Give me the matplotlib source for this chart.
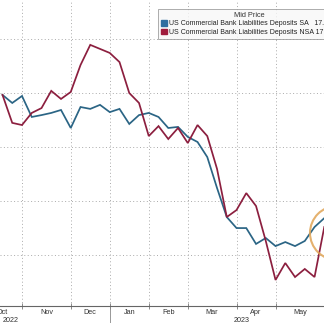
import matplotlib
matplotlib.use("Agg")
import matplotlib.pyplot as plt
from matplotlib.patches import Patch, Circle
import matplotlib.transforms as mtrans

plt.rcParams['font.family'] = ['Liberation Sans', 'DejaVu Sans']

# Weekly observations, Oct 19 2022 .. Jun 7 2023 (index 0 = Oct 19 2022)
weeks = list(range(34))
sa_values = [17.794, 17.764, 17.790, 17.712, 17.719, 17.727, 17.738, 17.671, 17.749, 17.742,
             17.757, 17.730, 17.742, 17.686, 17.719, 17.727, 17.712, 17.671, 17.675, 17.638,
             17.619, 17.563, 17.448, 17.340, 17.299, 17.299, 17.240, 17.262, 17.232, 17.247,
             17.232, 17.251, 17.303, 17.336]
nsa_values = [17.794, 17.690, 17.682, 17.727, 17.745, 17.809, 17.779, 17.805, 17.905, 17.980,
              17.965, 17.950, 17.916, 17.801, 17.764, 17.641, 17.678, 17.630, 17.671, 17.615,
              17.682, 17.641, 17.519, 17.340, 17.366, 17.429, 17.381, 17.251, 17.106, 17.169,
              17.117, 17.147, 17.117, 17.303]
# first weekly observation of each month (gridlines) and month label positions
month_starts = [2, 7, 11, 15, 19, 24, 28]
month_centers = [0, 4.5, 9, 13, 17, 21.5, 26, 30.5]
month_labels = ['Oct', 'Nov', 'Dec', 'Jan', 'Feb', 'Mar', 'Apr', 'May']
year_positions = [0.87, 24.5]
year_labels = ['2022', '2023']
year_break = 11
y_grid = [17.2, 17.4, 17.6, 17.8, 18.0]
legend_title = 'Mid Price'
sa_label = 'US Commercial Bank Liabilities Deposits SA   17.336'
nsa_label = 'US Commercial Bank Liabilities Deposits NSA 17.303'

blue = '#2b6585'
red = '#8c1f3f'

fig = plt.figure(figsize=(3.24, 3.23), dpi=100)
fig.patch.set_facecolor('white')
ax = fig.add_axes([0, 17/323, 1, 306/323])
ax.set_facecolor('white')

ax.plot(weeks, sa_values, color=blue, lw=1.25, zorder=3, solid_joinstyle='miter')
ax.plot(weeks, nsa_values, color=red, lw=1.25, zorder=3, solid_joinstyle='miter')

ax.set_xlim(-0.256, 32.97)
ax.set_ylim(17.0093, 18.1468)

ax.set_yticks(y_grid)
ax.tick_params(axis='y', left=False, labelleft=False)
ax.set_xticks(month_starts)
ax.set_xticklabels([])
ax.set_xticks(month_centers, minor=True)
ax.set_xticklabels(month_labels, minor=True, fontsize=5.2, color='#333333')
ax.tick_params(axis='x', which='major', direction='inout', length=4, width=0.6, color='#777777')
ax.tick_params(axis='x', which='minor', length=0, pad=1.8)

ax.grid(True, which='major', linestyle=(0, (1, 2.5)), color='#aaaaaa', lw=0.7)
for s in ['top', 'left', 'right']:
    ax.spines[s].set_visible(False)
ax.spines['bottom'].set_color('#666666')
ax.spines['bottom'].set_linewidth(0.8)

trans = mtrans.blended_transform_factory(ax.transData, ax.transAxes)
for xp, lab in zip(year_positions, year_labels):
    ax.text(xp, -0.047, lab, transform=trans, ha='center', va='center', fontsize=5.2, color='#333333')
ax.plot([year_break, year_break], [0, -0.06], transform=trans, color='#888888', lw=0.6, clip_on=False)

handles = [Patch(facecolor='#2f6ea0', edgecolor='#2f6ea0'),
           Patch(facecolor='#a01c3c', edgecolor='#a01c3c')]
leg = ax.legend(handles, [sa_label, nsa_label], title=legend_title, loc='upper left',
                bbox_to_anchor=(158/324, 1 - 8.5/306), borderaxespad=0, fontsize=5.0,
                title_fontsize=5.3, handlelength=0.85, handleheight=0.85, handletextpad=0.25,
                labelspacing=0.22, borderpad=0.45, frameon=True, fancybox=False)
leg.get_frame().set_edgecolor('#888888')
leg.get_frame().set_linewidth(0.6)
leg.get_frame().set_facecolor('#f8f8f8')
leg.set_zorder(5)
for t in leg.get_texts():
    t.set_color('#222222')
leg.get_title().set_color('#333333')

circ = Circle((3.37, (323 - 233) / 100), 0.27, transform=fig.dpi_scale_trans,
              fill=False, edgecolor='#e0a455', lw=1.5, alpha=0.85, zorder=6)
fig.add_artist(circ)

fig.savefig('out.png', dpi=100, facecolor='white')
